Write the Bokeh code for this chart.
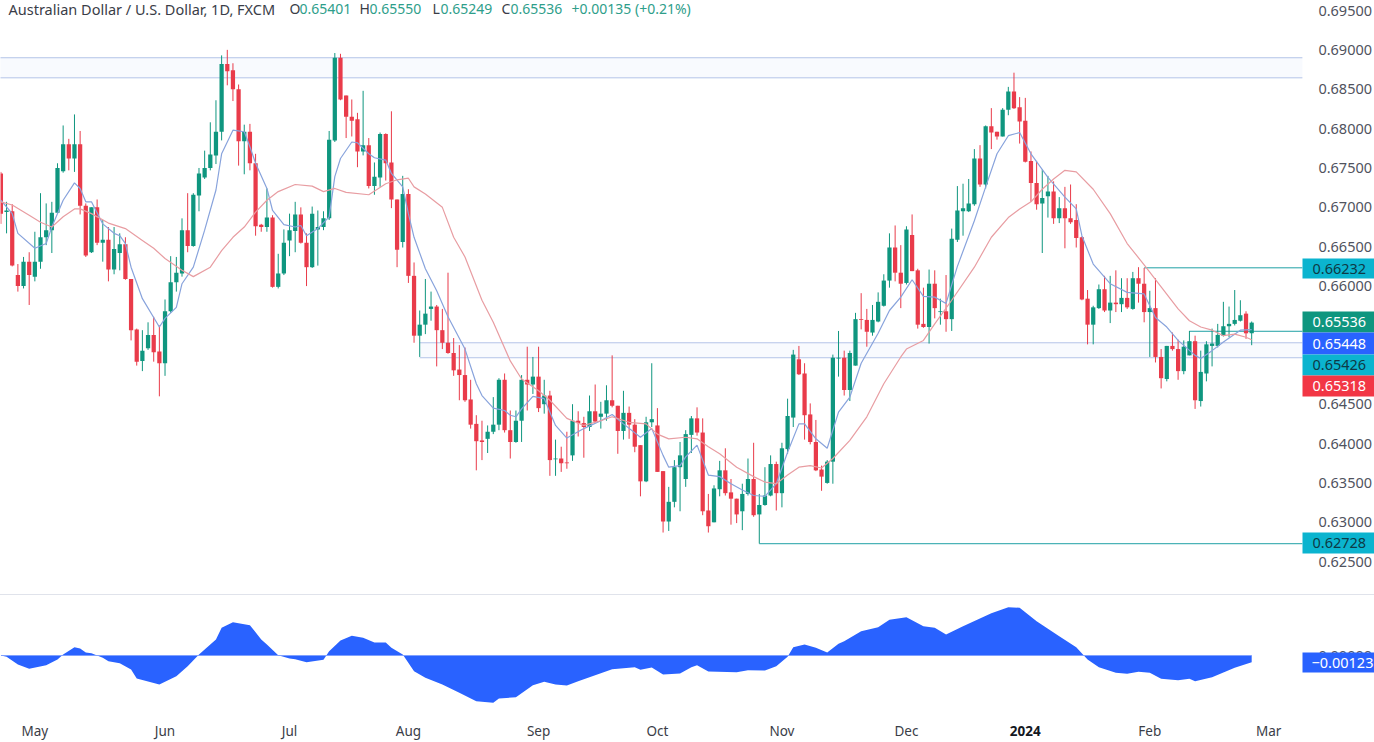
from bokeh.plotting import figure
from bokeh.layouts import column
from bokeh.models import (Range1d, FixedTicker, Label, BoxAnnotation, Div, ColumnDataSource, NumeralTickFormatter, LinearAxis)
from bokeh.embed import file_html
from bokeh.resources import INLINE

opens_pips = [
6743,6694,6695,6614,6600,6631,6612,6631,6662,6671,
6693,6746,6780,6762,6780,6702,6643,6700,6655,6659,
6621,6642,6653,6609,6545,6505,6521,6538,6517,6502,
6568,6605,6616,6671,6651,6715,6738,6750,6766,6796,
6882,6874,6850,6784,6796,6756,6678,6675,6687,6599,
6616,6658,6670,6691,6655,6624,6672,6675,6686,6785,
6890,6842,6815,6812,6771,6779,6727,6738,6793,6757,
6710,6656,6717,6613,6537,6551,6571,6574,6544,6528,
6515,6494,6487,6456,6425,6404,6406,6415,6424,6481,
6417,6402,6429,6481,6475,6485,6450,6461,6380,6381,
6376,6385,6429,6426,6421,6441,6434,6438,6455,6448,
6416,6439,6424,6398,6352,6427,6423,6365,6301,6326,
6370,6355,6411,6432,6414,6315,6300,6342,6366,6338,
6330,6314,6336,6355,6310,6322,6334,6374,6337,6393,
6433,6507,6489,6437,6402,6367,6350,6377,6508,6509,
6468,6499,6558,6557,6541,6555,6575,6607,6649,6617,
6604,6665,6620,6552,6548,6603,6567,6568,6558,6659,
6695,6695,6704,6762,6729,6803,6796,6790,6824,6847,
6827,6810,6759,6731,6705,6714,6720,6686,6699,6686,
6684,6662,6584,6551,6572,6596,6569,6579,6577,6585,
6571,6610,6603,6567,6572,6510,6482,6524,6520,6492,
6512,6530,6454,6489,6524,6524,6537,6549,6552,6556,
6565,6540.1]
closes_pips = [
6692,6696,6626,6600,6631,6614,6631,6662,6671,6693,
6750,6780,6762,6780,6702,6639,6700,6655,6659,6621,
6647,6653,6609,6544,6504,6518,6538,6516,6502,6568,
6605,6617,6671,6651,6716,6743,6750,6767,6796,6882,
6873,6850,6784,6796,6756,6676,6675,6687,6599,6616,
6655,6671,6691,6655,6624,6692,6675,6686,6786,6890,
6837,6815,6810,6771,6779,6727,6739,6793,6756,6710,
6646,6717,6613,6537,6551,6565,6574,6544,6528,6515,
6493,6487,6455,6424,6403,6402,6415,6424,6481,6417,
6402,6429,6481,6475,6485,6445,6461,6379,6381,6375,
6375,6429,6426,6421,6441,6428,6438,6455,6448,6416,
6439,6424,6396,6352,6427,6431,6364,6301,6326,6370,
6385,6412,6432,6414,6314,6295,6343,6366,6337,6330,
6310,6336,6355,6309,6322,6334,6374,6337,6394,6435,
6513,6488,6436,6402,6366,6358,6377,6509,6509,6468,
6515,6558,6557,6542,6557,6580,6607,6649,6617,6603,
6672,6619,6551,6548,6603,6572,6568,6558,6660,6696,
6699,6705,6762,6729,6803,6795,6790,6824,6847,6826,
6809,6758,6731,6704,6712,6720,6686,6699,6686,6681,
6661,6583,6551,6573,6596,6569,6579,6577,6585,6573,
6610,6603,6567,6572,6510,6483,6524,6520,6492,6523,
6530,6455,6491,6526,6527,6538,6549,6552,6557,6563,
6540,6553.6]
highs_pips = [
6745,6707,6704,6628,6637,6643,6669,6718,6705,6707,
6756,6804,6787,6818,6797,6705,6700,6710,6684,6675,
6675,6667,6662,6609,6546,6544,6554,6561,6550,6583,
6638,6637,6686,6718,6718,6750,6772,6808,6836,6893,
6900,6883,6856,6805,6806,6768,6679,6724,6690,6641,
6672,6692,6707,6700,6667,6701,6696,6695,6797,6896,
6895,6842,6837,6820,6848,6788,6757,6795,6794,6822,
6710,6740,6723,6630,6569,6609,6593,6576,6571,6617,
6534,6525,6522,6481,6436,6429,6423,6459,6483,6489,
6442,6442,6487,6523,6510,6523,6481,6467,6405,6396,
6415,6450,6441,6434,6461,6475,6453,6474,6512,6448,
6467,6447,6431,6398,6434,6502,6445,6365,6345,6379,
6402,6417,6435,6446,6432,6336,6347,6378,6394,6355,
6330,6349,6381,6401,6336,6370,6385,6377,6401,6457,
6519,6524,6502,6451,6430,6372,6379,6513,6543,6518,
6518,6566,6591,6571,6576,6592,6615,6667,6677,6652,
6676,6691,6622,6598,6621,6620,6584,6614,6673,6727,
6730,6736,6774,6779,6804,6826,6796,6826,6853,6871,
6840,6839,6771,6759,6748,6740,6733,6713,6726,6729,
6704,6663,6595,6575,6602,6613,6613,6620,6610,6610,
6618,6624,6623,6594,6610,6520,6524,6541,6532,6531,
6543,6537,6518,6530,6546,6552,6580,6574,6595,6582,
6568,6555.0]
lows_pips = [
6679,6667,6625,6593,6597,6576,6606,6622,6652,6642,
6692,6744,6747,6745,6691,6637,6642,6652,6631,6606,
6615,6620,6608,6531,6499,6492,6519,6504,6460,6486,
6566,6593,6612,6643,6650,6695,6736,6747,6755,6785,
6855,6835,6753,6742,6747,6664,6669,6669,6598,6597,
6614,6638,6643,6654,6600,6623,6626,6671,6684,6783,
6836,6788,6790,6751,6766,6724,6716,6726,6734,6699,
6624,6649,6604,6528,6510,6539,6556,6498,6520,6514,
6486,6455,6453,6419,6366,6379,6388,6412,6417,6414,
6381,6401,6402,6442,6463,6440,6438,6359,6359,6364,
6368,6378,6409,6382,6416,6427,6419,6429,6446,6387,
6405,6406,6389,6333,6351,6421,6364,6287,6289,6319,
6314,6345,6388,6410,6309,6287,6300,6333,6334,6297,
6299,6290,6334,6307,6273,6321,6333,6315,6319,6387,
6421,6487,6405,6399,6365,6340,6349,6349,6485,6461,
6454,6499,6545,6523,6537,6554,6574,6598,6606,6572,
6602,6619,6546,6547,6527,6559,6551,6542,6543,6656,
6664,6694,6702,6726,6724,6774,6786,6790,6817,6825,
6781,6757,6707,6697,6642,6687,6679,6680,6648,6679,
6649,6582,6526,6526,6571,6567,6553,6567,6567,6571,
6570,6579,6554,6510,6503,6470,6479,6518,6481,6488,
6512,6444,6447,6479,6498,6522,6536,6535,6550,6555,
6533,6524.9]

fast_ma_idx = [0,2,3,6,8,9,11,13,14,15,16,18,20,21,22,23,25,28,29,31,32,34,36,38,39,41,43,44,45,47,48,50,52,53,54,56,58,59,60,62,63,65,66,68,69,71,72,73,75,77,79,82,84,85,87,89,90,91,92,94,96,98,100,103,106,108,110,113,115,117,118,120,121,123,124,125,127,129,131,133,135,137,139,141,142,144,146,148,150,152,155,157,159,161,163,165,167,169,172,174,176,178,180,182,185,188,190,191,193,196,199,202,204,206,208,211,212,214,216,219,221]
fast_ma_pips = [6709,6692,6667,6648,6654,6675,6709,6731,6724,6707,6707,6679,6667,6664,6654,6624,6584,6548,6559,6573,6603,6624,6671,6722,6768,6798,6796,6777,6756,6724,6696,6678,6675,6677,6664,6673,6688,6739,6762,6783,6782,6768,6763,6760,6743,6726,6692,6662,6622,6594,6561,6520,6476,6461,6445,6442,6436,6434,6444,6460,6457,6423,6407,6419,6429,6437,6425,6408,6419,6385,6370,6372,6383,6398,6379,6360,6358,6349,6341,6334,6333,6349,6389,6425,6425,6406,6394,6440,6459,6502,6540,6569,6586,6608,6587,6586,6578,6625,6683,6726,6768,6791,6795,6768,6738,6713,6698,6664,6628,6603,6592,6590,6560,6548,6531,6512,6508,6518,6529,6544,6544.8]
slow_ma_idx = [0,2,5,7,9,11,13,14,16,19,22,25,27,29,32,34,37,39,41,43,45,47,49,52,55,57,59,61,65,68,70,72,73,75,78,80,82,85,87,90,92,95,97,100,103,106,108,111,114,116,118,121,123,125,127,130,133,135,137,139,141,143,145,147,150,153,156,159,160,163,165,168,172,175,178,180,182,184,186,188,190,193,196,199,202,205,208,210,212,214,216,218,220,221]
slow_ma_pips = [6707,6703,6690,6681,6675,6688,6698,6698,6692,6680,6673,6658,6648,6635,6620,6612,6624,6645,6662,6675,6694,6709,6720,6729,6727,6720,6724,6719,6716,6730,6735,6737,6726,6717,6700,6662,6637,6582,6554,6505,6482,6467,6455,6432,6423,6429,6434,6427,6425,6412,6406,6408,6406,6396,6387,6370,6358,6351,6349,6360,6370,6372,6369,6381,6404,6434,6476,6510,6520,6531,6552,6582,6624,6662,6687,6698,6707,6723,6736,6747,6745,6723,6692,6654,6627,6599,6571,6556,6548,6544,6537,6539,6535,6531.8]

osc_idx = [0,1,3,5,8,10,11,13,14,15,16,18,19,21,23,24,28,31,33,35,38,39,41,44,46,47,49,51,52,54,57,58,60,62,64,66,68,69,71,73,75,78,81,84,87,88,91,94,96,98,100,102,108,112,113,115,117,120,122,123,125,130,132,135,137,139,140,142,144,146,148,149,152,155,157,160,163,165,167,170,175,178,180,183,187,190,192,194,197,199,201,203,205,208,210,211,214,218,221]
osc_vals_e5 = [0,-24,-162,-240,-174,-72,18,150,126,54,42,-42,-102,-138,-252,-414,-522,-372,-192,18,288,498,600,546,288,198,6,-54,-66,-120,-78,78,270,354,318,234,234,138,18,-282,-402,-522,-672,-822,-852,-774,-750,-534,-474,-522,-540,-462,-246,-210,-258,-216,-342,-324,-210,-174,-288,-300,-264,-270,-192,-24,150,198,138,54,210,258,438,510,642,690,528,498,378,528,762,870,858,618,348,150,-72,-210,-312,-330,-294,-312,-420,-444,-420,-462,-390,-222,-123]

tick_idx = [6,29,51,72,95,116,138,160,181,203,224]
tick_names = ["May","Jun","Jul","Aug","Sep","Oct","Nov","Dec","2024","Feb","Mar"]
price_ticks = [0.625,0.63,0.635,0.64,0.645,0.65,0.655,0.66,0.665,0.67,0.675,0.68,0.685,0.69,0.695]

PANE_END = 229.96
zone_prices = [(0.6890,0.68645,-5),(0.6528,0.6509,74)]
level_prices = [(0.66232,202),(0.65426,210),(0.62728,134)]
price_tags = [("0.66232",258,278,"#0BB4CF","#0E3A46"),("0.65536",311,332,"#0F967F","#FFFFFF"),
              ("0.65448",332,354,"#2962FF","#FFFFFF"),("0.65426",354,375,"#0BB4CF","#0E3A46"),
              ("0.65318",375,396,"#F23645","#FFFFFF"),("0.62728",532,553,"#0BB4CF","#0E3A46")]

title_text = "Australian Dollar / U.S. Dollar, 1D, FXCM"
ohlc_parts = [("O",289),("0.65401",299),("H",359),("0.65550",369),("L",432),("0.65249",440),("C",501),("0.65536",510),("+0.00135 (+0.21%)",571)]

FONT = "Noto Sans"
GREEN, RED = "#0F967F", "#E93B4A"
TXT = "#50535E"

n = len(opens_pips)
idx = list(range(n))
src = ColumnDataSource(dict(
    x=idx,
    o=[v/1e4 for v in opens_pips], c=[v/1e4 for v in closes_pips],
    h=[v/1e4 for v in highs_pips], l=[v/1e4 for v in lows_pips],
    col=[GREEN if c >= o else RED for o, c in zip(opens_pips, closes_pips)]))

xr = Range1d(-0.07, 242.7)
p1 = figure(width=1374, height=594, output_backend="svg", toolbar_location=None,
            x_range=xr, y_range=Range1d(0.62083, 0.69627), x_axis_location=None, y_axis_location=None,
            min_border_left=0, min_border_right=0, min_border_top=0, min_border_bottom=0,
            background_fill_color="white", outline_line_color=None)
p1.grid.visible = False
ax = LinearAxis(fixed_location=PANE_END, ticker=FixedTicker(ticks=price_ticks),
                formatter=NumeralTickFormatter(format="0.00000"),
                axis_line_color=None, major_tick_line_color=None, minor_tick_line_color=None,
                major_label_text_font=FONT, major_label_text_font_size="14.5px",
                major_label_text_color=TXT, major_label_standoff=10)
p1.add_layout(ax, "right")

for top, bot, l in zone_prices:
    p1.quad(left=[l], right=[PANE_END], top=[top], bottom=[bot], fill_color="#F8FAFE", line_color=None)
    p1.segment(x0=[l, l], x1=[PANE_END, PANE_END], y0=[top, bot], y1=[top, bot], line_color="#B4C4E8", line_width=1)
for lv, start in level_prices:
    p1.segment(x0=[start], x1=[PANE_END], y0=[lv], y1=[lv], line_color="#1FA0A5", line_width=1)

p1.segment(x0="x", x1="x", y0="l", y1="h", line_color="col", line_width=1, source=src)
p1.vbar(x="x", width=0.75, top="o", bottom="c", fill_color="col", line_color=None, source=src)

p1.line(fast_ma_idx, [v/1e4 for v in fast_ma_pips], line_color="#88A3DC", line_width=1.2)
p1.line(slow_ma_idx, [v/1e4 for v in slow_ma_pips], line_color="#E89DA2", line_width=1.2)

for text, t, b, bg, fg in price_tags:
    p1.add_layout(BoxAnnotation(left=1302, right=1374, top=t, bottom=b, left_units="canvas", right_units="canvas",
                                top_units="canvas", bottom_units="canvas", fill_color=bg, fill_alpha=1,
                                line_color=None))
    p1.add_layout(Label(x=1312, y=(t+b)/2, x_units="canvas", y_units="canvas", text=text, text_font=FONT,
                        text_font_size="14.5px", text_color=fg, text_baseline="middle", text_align="left"))

p1.add_layout(Label(x=8, y=8, x_units="canvas", y_units="canvas", text=title_text, text_font=FONT,
                    text_font_size="14.5px", text_color="#3A3D47", text_baseline="middle"))
for text, xpos in ohlc_parts:
    col = "#3A3D47" if text in ("O","H","L","C") else "#2E9E8A"
    p1.add_layout(Label(x=xpos, y=8, x_units="canvas", y_units="canvas", text=text, text_font=FONT,
                        text_font_size="14px", text_color=col, text_baseline="middle"))

sep = Div(width=1374, height=1, margin=0, styles={"background-color": "#E0E3EB"})

p2 = figure(width=1374, height=147, output_backend="svg", toolbar_location=None,
            x_range=xr, y_range=Range1d(-0.01566, 0.0108), x_axis_location=None, y_axis_location=None,
            min_border_left=0, min_border_right=0, min_border_top=0, min_border_bottom=0,
            background_fill_color="white", outline_line_color=None)
p2.grid.visible = False
osc = [v/1e5 for v in osc_vals_e5]
p2.varea(x=osc_idx, y1=[0]*len(osc), y2=osc, fill_color="#2962FF")
p2.line([0, n-1], [0, 0], line_color="#7FA0FF", line_width=1)
ay = LinearAxis(fixed_location=PANE_END, ticker=FixedTicker(ticks=[0]),
                formatter=NumeralTickFormatter(format="0.00000"),
                axis_line_color=None, major_tick_line_color=None, minor_tick_line_color=None,
                major_label_text_font=FONT, major_label_text_font_size="14.5px",
                major_label_text_color=TXT, major_label_standoff=10)
p2.add_layout(ay, "right")
ax2 = LinearAxis(fixed_location=-0.00936, ticker=FixedTicker(ticks=tick_idx),
                 major_label_overrides={i: ("" if nm == "2024" else nm) for i, nm in zip(tick_idx, tick_names)},
                 axis_line_color=None, major_tick_line_color=None, minor_tick_line_color=None,
                 major_label_text_font=FONT, major_label_text_font_size="13.5px",
                 major_label_text_color="#3A3D47", major_label_standoff=8)
p2.add_layout(ax2, "below")
p2.add_layout(BoxAnnotation(left=1302, right=1374, top=57, bottom=77, left_units="canvas", right_units="canvas",
                            top_units="canvas", bottom_units="canvas", fill_color="#2962FF", fill_alpha=1,
                            line_color=None))
p2.add_layout(Label(x=1311, y=67, x_units="canvas", y_units="canvas", text="\u22120.00123", text_font=FONT,
                    text_font_size="14.5px", text_color="white", text_baseline="middle"))
p2.add_layout(Label(x=tick_idx[tick_names.index("2024")], y=135, y_units="canvas", text="2024", text_font=FONT,
                    text_font_size="13.5px", text_font_style="bold", text_color="#131722",
                    text_baseline="middle", text_align="center"))

page = column(p1, sep, p2, spacing=0, margin=0)
open("out.html", "w").write(file_html(page, INLINE))
